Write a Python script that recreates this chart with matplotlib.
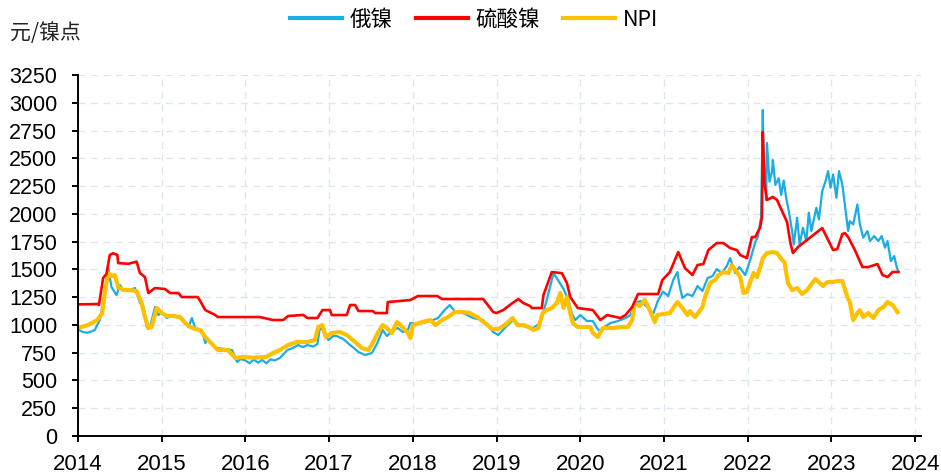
import matplotlib
matplotlib.use("Agg")
import matplotlib.pyplot as plt
import numpy as np

plt.rcParams['font.family'] = ['Liberation Sans', 'Noto Sans CJK SC', 'DejaVu Sans']

# ---------------- data (fractional year, 元/镍点) ----------------
ru_t = [2014.00, 2014.06, 2014.12, 2014.20, 2014.26, 2014.32, 2014.36, 2014.40, 2014.46, 2014.50,
        2014.54, 2014.62, 2014.68, 2014.74, 2014.78, 2014.82, 2014.86, 2014.92, 2014.96, 2015.00,
        2015.06, 2015.14, 2015.24, 2015.32, 2015.36, 2015.40, 2015.48, 2015.52, 2015.55, 2015.64,
        2015.76, 2015.84, 2015.90, 2015.94, 2016.00, 2016.05, 2016.10, 2016.15, 2016.20, 2016.25,
        2016.30, 2016.35, 2016.41, 2016.46, 2016.50, 2016.56, 2016.63, 2016.69, 2016.74, 2016.81,
        2016.86, 2016.89, 2016.92, 2016.99, 2017.05, 2017.09, 2017.17, 2017.25, 2017.30, 2017.35,
        2017.43, 2017.51, 2017.57, 2017.64, 2017.69, 2017.76, 2017.82, 2017.88, 2017.94, 2017.97,
        2018.05, 2018.12, 2018.21, 2018.30, 2018.38, 2018.44, 2018.50, 2018.60, 2018.72, 2018.84,
        2018.96, 2019.02, 2019.12, 2019.20, 2019.26, 2019.32, 2019.44, 2019.52, 2019.60, 2019.68,
        2019.74, 2019.80, 2019.86, 2019.90, 2019.94, 2020.00, 2020.08, 2020.15, 2020.20, 2020.24,
        2020.27, 2020.36, 2020.45, 2020.54, 2020.60, 2020.65, 2020.72, 2020.80, 2020.87, 2020.93,
        2020.99, 2021.05, 2021.11, 2021.16, 2021.18, 2021.22, 2021.28, 2021.34, 2021.40, 2021.46,
        2021.52, 2021.58, 2021.63, 2021.69, 2021.75, 2021.79, 2021.85, 2021.90, 2021.97, 2022.03,
        2022.09, 2022.12, 2022.16, 2022.18, 2022.19, 2022.22, 2022.23, 2022.26, 2022.29, 2022.30,
        2022.33, 2022.37, 2022.40, 2022.43, 2022.46, 2022.49, 2022.53, 2022.55, 2022.59, 2022.62,
        2022.66, 2022.70, 2022.73, 2022.76, 2022.82, 2022.85, 2022.89, 2022.93, 2022.96, 2022.99,
        2023.02, 2023.06, 2023.09, 2023.13, 2023.16, 2023.20, 2023.22, 2023.26, 2023.31, 2023.34,
        2023.38, 2023.43, 2023.46, 2023.51, 2023.56, 2023.60, 2023.64, 2023.67, 2023.71, 2023.75,
        2023.78, 2023.80]
ru_v = [960, 935, 930, 954, 1044, 1287, 1521, 1341, 1269, 1359,
        1314, 1314, 1332, 1197, 1170, 981, 981, 1161, 1089, 1116,
        1062, 1089, 1062, 981, 1062, 972, 954, 837, 873, 792,
        783, 774, 666, 693, 680, 655, 690, 660, 685, 655,
        690, 680, 702, 740, 774, 790, 819, 800, 819, 805,
        828, 981, 954, 864, 900, 900, 873, 819, 790, 756,
        729, 747, 828, 954, 900, 954, 972, 936, 954, 1017,
        1010, 1017, 1035, 1062, 1134, 1179, 1125, 1107, 1062, 1044,
        936, 909, 990, 1044, 1010, 990, 972, 1017, 1224, 1467,
        1395, 1323, 1224, 1100, 1044, 1089, 1035, 1035, 972, 936,
        972, 1017, 1035, 1062, 1089, 1197, 1215, 1161, 1098, 1224,
        1300, 1260, 1404, 1476, 1377, 1242, 1278, 1260, 1350, 1305,
        1422, 1440, 1503, 1467, 1530, 1602, 1467, 1521, 1449, 1584,
        1746, 1791, 1971, 2935, 2512, 2125, 2638, 2290, 2380, 2485,
        2260, 2320, 2170, 2300, 2140, 2030, 1845, 1725, 1965, 1725,
        1875, 1755, 2010, 1845, 2055, 1950, 2205, 2295, 2385, 2235,
        2355, 2145, 2385, 2265, 2085, 1845, 1935, 1905, 2085, 1905,
        1785, 1845, 1755, 1800, 1755, 1800, 1695, 1755, 1575, 1620,
        1520, 1480]

ns_t = [2014.00, 2014.24, 2014.25, 2014.30, 2014.34, 2014.38, 2014.42, 2014.47, 2014.48, 2014.60,
        2014.70, 2014.74, 2014.80, 2014.84, 2014.92, 2015.04, 2015.10, 2015.20, 2015.24, 2015.43,
        2015.46, 2015.52, 2015.64, 2015.67, 2016.17, 2016.33, 2016.45, 2016.51, 2016.69, 2016.74,
        2016.86, 2016.92, 2017.01, 2017.03, 2017.21, 2017.25, 2017.31, 2017.35, 2017.52, 2017.55,
        2017.69, 2017.70, 2017.97, 2018.06, 2018.29, 2018.35, 2018.84, 2018.96, 2019.00, 2019.08,
        2019.19, 2019.26, 2019.32, 2019.40, 2019.42, 2019.54, 2019.56, 2019.66, 2019.78, 2019.84,
        2019.88, 2019.97, 2020.15, 2020.24, 2020.32, 2020.48, 2020.54, 2020.62, 2020.69, 2020.93,
        2020.98, 2021.07, 2021.17, 2021.25, 2021.34, 2021.40, 2021.47, 2021.53, 2021.63, 2021.71,
        2021.79, 2021.87, 2021.91, 2021.99, 2022.05, 2022.09, 2022.15, 2022.17, 2022.18, 2022.20,
        2022.23, 2022.30, 2022.35, 2022.47, 2022.51, 2022.54, 2022.60, 2022.89, 2023.02, 2023.07,
        2023.13, 2023.16, 2023.20, 2023.28, 2023.37, 2023.44, 2023.55, 2023.61, 2023.67, 2023.73,
        2023.80]
ns_v = [1185, 1188, 1180, 1422, 1460, 1630, 1645, 1630, 1557, 1550,
        1570, 1467, 1430, 1287, 1332, 1323, 1287, 1287, 1251, 1251,
        1215, 1134, 1089, 1071, 1071, 1044, 1044, 1080, 1090, 1062,
        1062, 1134, 1134, 1089, 1089, 1179, 1179, 1125, 1125, 1107,
        1107, 1206, 1224, 1260, 1260, 1233, 1233, 1116, 1107, 1134,
        1197, 1233, 1197, 1170, 1152, 1152, 1269, 1476, 1466, 1377,
        1251, 1152, 1134, 1044, 1089, 1062, 1089, 1161, 1278, 1278,
        1404, 1476, 1656, 1512, 1449, 1539, 1548, 1674, 1737, 1737,
        1692, 1674, 1629, 1602, 1791, 1791, 1881, 1971, 2737, 2278,
        2125, 2152, 2125, 1926, 1737, 1647, 1701, 1872, 1674, 1683,
        1818, 1827, 1791, 1674, 1521, 1521, 1548, 1449, 1431, 1476,
        1476]

npi_t = [2014.00, 2014.12, 2014.23, 2014.29, 2014.32, 2014.36, 2014.40, 2014.44, 2014.48, 2014.54,
         2014.62, 2014.70, 2014.76, 2014.80, 2014.84, 2014.88, 2014.94, 2015.00, 2015.06, 2015.14,
         2015.22, 2015.28, 2015.34, 2015.40, 2015.46, 2015.52, 2015.60, 2015.67, 2015.79, 2015.88,
         2015.96, 2016.10, 2016.25, 2016.33, 2016.41, 2016.51, 2016.61, 2016.74, 2016.83, 2016.87,
         2016.92, 2016.96, 2017.03, 2017.13, 2017.21, 2017.31, 2017.39, 2017.47, 2017.52, 2017.58,
         2017.64, 2017.69, 2017.75, 2017.81, 2017.85, 2017.91, 2017.94, 2017.97, 2018.00, 2018.11,
         2018.21, 2018.27, 2018.35, 2018.42, 2018.50, 2018.60, 2018.68, 2018.77, 2018.86, 2018.95,
         2019.02, 2019.10, 2019.19, 2019.25, 2019.32, 2019.38, 2019.44, 2019.50, 2019.55, 2019.60,
         2019.66, 2019.72, 2019.76, 2019.80, 2019.84, 2019.88, 2019.91, 2019.97, 2020.12, 2020.15,
         2020.21, 2020.27, 2020.39, 2020.48, 2020.57, 2020.62, 2020.65, 2020.71, 2020.77, 2020.83,
         2020.89, 2020.92, 2020.99, 2021.07, 2021.16, 2021.22, 2021.28, 2021.31, 2021.37, 2021.46,
         2021.49, 2021.55, 2021.61, 2021.65, 2021.71, 2021.77, 2021.81, 2021.87, 2021.91, 2021.95,
         2021.99, 2022.03, 2022.07, 2022.11, 2022.15, 2022.18, 2022.23, 2022.30, 2022.35, 2022.41,
         2022.44, 2022.48, 2022.53, 2022.59, 2022.65, 2022.71, 2022.77, 2022.81, 2022.86, 2022.90,
         2022.95, 2023.01, 2023.08, 2023.13, 2023.19, 2023.22, 2023.26, 2023.31, 2023.34, 2023.38,
         2023.44, 2023.50, 2023.56, 2023.62, 2023.67, 2023.73, 2023.79]
npi_v = [972, 999, 1044, 1107, 1287, 1467, 1440, 1449, 1341, 1314,
         1314, 1305, 1197, 1071, 972, 981, 1152, 1107, 1080, 1080,
         1071, 1017, 981, 963, 954, 891, 828, 774, 774, 702,
         711, 705, 711, 747, 774, 819, 846, 846, 864, 981,
         999, 891, 927, 936, 909, 846, 792, 774, 837, 927,
         999, 972, 927, 1026, 999, 954, 927, 882, 999, 1026,
         1044, 999, 1044, 1071, 1116, 1116, 1107, 1071, 1017, 963,
         963, 999, 1062, 999, 999, 981, 954, 972, 1107, 1134,
         1152, 1197, 1287, 1152, 1251, 1107, 1017, 981, 981, 927,
         891, 972, 972, 981, 981, 1044, 1197, 1170, 1224, 1134,
         1026, 1089, 1098, 1107, 1206, 1152, 1089, 1125, 1071, 1161,
         1251, 1377, 1404, 1449, 1476, 1467, 1539, 1476, 1431, 1287,
         1296, 1386, 1467, 1431, 1521, 1602, 1647, 1656, 1647, 1584,
         1566, 1377, 1314, 1332, 1278, 1314, 1377, 1413, 1377, 1350,
         1386, 1386, 1395, 1395, 1251, 1206, 1044, 1107, 1134, 1071,
         1107, 1062, 1134, 1161, 1206, 1179, 1116]

series_names = ['俄镍', '硫酸镍', 'NPI']
series_colors = ['#1AACE4', '#FF0000', '#FFC000']
year_ticks = list(range(2014, 2025))
y_ticks = list(range(0, 3251, 250))
y_unit = '元/镍点'

# ---------------- figure ----------------
fig = plt.figure(figsize=(9.41, 4.75), dpi=100)
ax = fig.add_axes([78/941, 1-436/475, (921-78)/941, (436-75)/475])

l1, = ax.plot(ru_t, ru_v, color=series_colors[0], lw=1.6, zorder=3, label=series_names[0])
l2, = ax.plot(ns_t, ns_v, color=series_colors[1], lw=1.9, zorder=5, label=series_names[1])
l3, = ax.plot(npi_t, npi_v, color=series_colors[2], lw=3.0, zorder=4, label=series_names[2],
              solid_joinstyle='round')

ax.set_xlim(2014, 2024.07)
ax.set_ylim(0, 3250)
ax.set_xticks(year_ticks)
ax.set_xticklabels([str(y) for y in year_ticks],
                   fontfamily=['Liberation Sans Narrow', 'Liberation Sans'])
ax.set_yticks(y_ticks)

ax.grid(True, color='#DCE6F2', lw=1.0, ls=(0, (5, 4)), zorder=0)
ax.set_axisbelow(True)
for s in ['top', 'right']:
    ax.spines[s].set_visible(False)
for s in ['left', 'bottom']:
    ax.spines[s].set_color('black')
    ax.spines[s].set_linewidth(1.4)
    ax.spines[s].set_zorder(6)

ax.tick_params(axis='y', direction='out', length=4.5, width=1.4, pad=10.5, labelsize=15.5, colors='black')
ax.tick_params(axis='x', direction='out', length=4.5, width=1.4, pad=8.5, labelsize=16, colors='black')

fig.text(10/941, 1-33/475, y_unit, fontsize=15, style='italic', va='center', ha='left',
         family=['Noto Sans CJK SC', 'DejaVu Sans'], color='#222222')

leg = fig.legend(handles=[l1, l2, l3], loc='center', bbox_to_anchor=(474/941, 1-20/475),
                 ncol=3, frameon=False, handlelength=2.4, handletextpad=0.35,
                 columnspacing=1.1, prop={'family': ['Noto Sans CJK SC', 'DejaVu Sans'], 'size': 15.5})
for h in leg.get_lines():
    h.set_linewidth(3.0)

fig.savefig('out.png', dpi=100)
